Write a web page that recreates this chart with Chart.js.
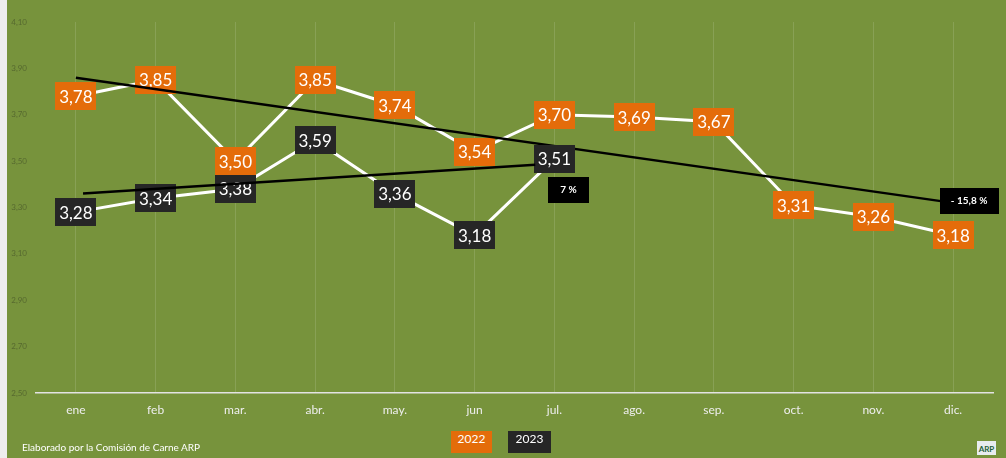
<!DOCTYPE html>
<html>
<head>
<meta charset="utf-8">
<script src="https://cdn.jsdelivr.net/npm/chart.js@4.4.1/dist/chart.umd.min.js"></script>
<style>
  html, body { margin: 0; padding: 0; background: #eeeeee; }
  #wrap { position: absolute; left: 7px; top: 0; width: 999px; height: 458px; background: #77933c; overflow: hidden; }
  #chart { position: absolute; left: 0; top: 0; }
  .legend { position: absolute; top: 431px; height: 22px; line-height: 22px; color: #fff; font: 12px Lato, sans-serif; text-align: center; }
  #foot { position: absolute; left: 15px; top: 441px; color: #fff; font: 10px Lato, sans-serif; }
  #logo { position: absolute; left: 970px; top: 441px; width: 19px; height: 14px; background: #e8ecef; color: #1f5f3a; font: bold 8px Lato, sans-serif; line-height: 16px; text-align: center; }
</style>
</head>
<body>
<div id="wrap">
  <canvas id="chart" width="999" height="458"></canvas>
  <div class="legend" style="left:444px;width:41px;background:#e46c0a;">2022</div>
  <div class="legend" style="left:501px;width:43px;background:#262626;">2023</div>
  <div id="foot">Elaborado por la Comisión de Carne ARP</div>
  <div id="logo">ARP</div>
</div>
<script>
const months = ['ene', 'feb', 'mar.', 'abr.', 'may.', 'jun', 'jul.', 'ago.', 'sep.', 'oct.', 'nov.', 'dic.'];
const values2022 = [3.78, 3.85, 3.50, 3.85, 3.74, 3.54, 3.70, 3.69, 3.67, 3.31, 3.26, 3.18];
const values2023 = [3.28, 3.34, 3.38, 3.59, 3.36, 3.18, 3.51];
// hand drawn trend lines, end points (x = month index)
const trend2022 = [{ x: 0, y: 3.86 }, { x: 11, y: 3.32 }];
const trend2023 = [{ x: 0.09, y: 3.36 }, { x: 5.76, y: 3.484 }];
const changeLabels = ['- 15,8 %', '7 %'];
const yTicks = [2.5, 2.7, 2.9, 3.1, 3.3, 3.5, 3.7, 3.9, 4.1];

const fmt = v => v.toFixed(2).replace('.', ',');

function drawBoxes(chart, i) {
  const ctx = chart.ctx;
  const ds = chart.data.datasets[i];
  ctx.save();
  ctx.font = '17px Lato, sans-serif';
  ctx.textAlign = 'center';
  ctx.textBaseline = 'middle';
  chart.getDatasetMeta(i).data.forEach((pt, j) => {
    const v = ds.data[j];
    if (v == null) return;
    ctx.fillStyle = ds.boxColor;
    ctx.fillRect(Math.round(pt.x - 20.5), Math.round(pt.y - 14), 41, 28);
    ctx.fillStyle = '#fff';
    ctx.fillText(fmt(v), pt.x, pt.y + 1);
  });
  ctx.restore();
}

function drawTag(ctx, text, cx, cy, w) {
  ctx.fillStyle = '#000';
  ctx.fillRect(Math.round(cx - w / 2), Math.round(cy - 13), w, 26);
  ctx.fillStyle = '#fff';
  ctx.fillText(text, cx, cy);
}

// value boxes and change tags, layered like the original
const valueLabels = {
  id: 'valueLabels',
  afterDatasetDraw(chart, args) {
    if (args.index === 0) drawBoxes(chart, 0);
    if (args.index === 2) drawBoxes(chart, 1);
  },
  afterDatasetsDraw(chart) {
    const ctx = chart.ctx;
    ctx.save();
    ctx.font = 'bold 10px Lato, sans-serif';
    ctx.textAlign = 'center';
    ctx.textBaseline = 'middle';
    const t22 = chart.getDatasetMeta(2).data;
    const end22 = t22[t22.length - 1];
    drawTag(ctx, changeLabels[0], end22.x + 16, end22.y - 2, 59);
    const v23 = chart.getDatasetMeta(1).data;
    const last23 = v23[v23.length - 1];
    drawTag(ctx, changeLabels[1], last23.x + 14, last23.y + 31, 41);
    ctx.restore();
  }
};

new Chart(document.getElementById('chart'), {
  type: 'line',
  data: {
    labels: months,
    datasets: [
      { label: '2022', data: values2022, borderColor: '#ffffff', borderWidth: 3, pointRadius: 0, boxColor: '#e46c0a', order: 4 },
      { label: '2023', data: values2023, borderColor: '#ffffff', borderWidth: 3, pointRadius: 0, boxColor: '#262626', order: 5 },
      { label: 'Tendencia 2022', data: trend2022, xAxisID: 'x2', borderColor: '#000000', borderWidth: 2.5, pointRadius: 0, order: 3 },
      { label: 'Tendencia 2023', data: trend2023, xAxisID: 'x2', borderColor: '#000000', borderWidth: 2.5, pointRadius: 0, order: 2 }
    ]
  },
  options: {
    responsive: false,
    animation: false,
    devicePixelRatio: 1,
    layout: { padding: { top: 22, right: 13, left: 0, bottom: 0 } },
    plugins: { legend: { display: false }, tooltip: { enabled: false } },
    scales: {
      x: {
        offset: true,
        grid: { offset: false, color: 'rgba(255,255,255,0.13)', lineWidth: 1, drawTicks: false },
        border: { color: '#e3e3e3', width: 1.5 },
        ticks: { color: '#eeeeee', font: { family: 'Lato', size: 12 }, padding: 10 },
        afterFit(s) { s.height = 65; }
      },
      x2: {
        type: 'linear',
        display: false,
        min: -0.5,
        max: months.length - 0.5
      },
      y: {
        min: 2.5,
        max: 4.1,
        grid: { display: false, drawTicks: false },
        border: { display: false },
        afterBuildTicks(s) { s.ticks = yTicks.map(v => ({ value: v })); },
        ticks: { color: '#56692f', font: { family: 'Lato', size: 8 }, padding: 9, callback: v => fmt(v) },
        afterFit(s) { s.width = 29; }
      }
    }
  },
  plugins: [valueLabels]
});
</script>
</body>
</html>
